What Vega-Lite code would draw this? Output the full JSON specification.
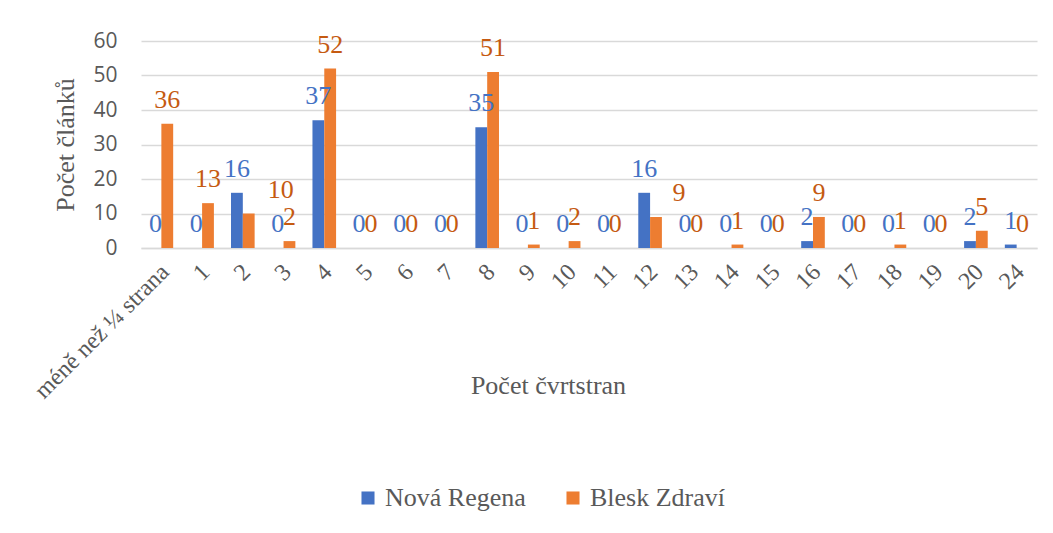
{
  "$schema": "https://vega.github.io/schema/vega-lite/v6.json",
  "width": 896,
  "height": 207,
  "padding": {"left": 30, "top": 30, "right": 10, "bottom": 5},
  "background": "white",
  "data": {
    "values": [
      {"cat": "méně než ¼ strana", "series": "Nová Regena", "value": 0},
      {"cat": "méně než ¼ strana", "series": "Blesk Zdraví", "value": 36},
      {"cat": "1", "series": "Nová Regena", "value": 0},
      {"cat": "1", "series": "Blesk Zdraví", "value": 13},
      {"cat": "2", "series": "Nová Regena", "value": 16},
      {"cat": "2", "series": "Blesk Zdraví", "value": 10},
      {"cat": "3", "series": "Nová Regena", "value": 0},
      {"cat": "3", "series": "Blesk Zdraví", "value": 2},
      {"cat": "4", "series": "Nová Regena", "value": 37},
      {"cat": "4", "series": "Blesk Zdraví", "value": 52},
      {"cat": "5", "series": "Nová Regena", "value": 0},
      {"cat": "5", "series": "Blesk Zdraví", "value": 0},
      {"cat": "6", "series": "Nová Regena", "value": 0},
      {"cat": "6", "series": "Blesk Zdraví", "value": 0},
      {"cat": "7", "series": "Nová Regena", "value": 0},
      {"cat": "7", "series": "Blesk Zdraví", "value": 0},
      {"cat": "8", "series": "Nová Regena", "value": 35},
      {"cat": "8", "series": "Blesk Zdraví", "value": 51},
      {"cat": "9", "series": "Nová Regena", "value": 0},
      {"cat": "9", "series": "Blesk Zdraví", "value": 1},
      {"cat": "10", "series": "Nová Regena", "value": 0},
      {"cat": "10", "series": "Blesk Zdraví", "value": 2},
      {"cat": "11", "series": "Nová Regena", "value": 0},
      {"cat": "11", "series": "Blesk Zdraví", "value": 0},
      {"cat": "12", "series": "Nová Regena", "value": 16},
      {"cat": "12", "series": "Blesk Zdraví", "value": 9},
      {"cat": "13", "series": "Nová Regena", "value": 0},
      {"cat": "13", "series": "Blesk Zdraví", "value": 0},
      {"cat": "14", "series": "Nová Regena", "value": 0},
      {"cat": "14", "series": "Blesk Zdraví", "value": 1},
      {"cat": "15", "series": "Nová Regena", "value": 0},
      {"cat": "15", "series": "Blesk Zdraví", "value": 0},
      {"cat": "16", "series": "Nová Regena", "value": 2},
      {"cat": "16", "series": "Blesk Zdraví", "value": 9},
      {"cat": "17", "series": "Nová Regena", "value": 0},
      {"cat": "17", "series": "Blesk Zdraví", "value": 0},
      {"cat": "18", "series": "Nová Regena", "value": 0},
      {"cat": "18", "series": "Blesk Zdraví", "value": 1},
      {"cat": "19", "series": "Nová Regena", "value": 0},
      {"cat": "19", "series": "Blesk Zdraví", "value": 0},
      {"cat": "20", "series": "Nová Regena", "value": 2},
      {"cat": "20", "series": "Blesk Zdraví", "value": 5},
      {"cat": "24", "series": "Nová Regena", "value": 1},
      {"cat": "24", "series": "Blesk Zdraví", "value": 0}
    ]
  },
  "encoding": {
    "x": {
      "field": "cat",
      "type": "nominal",
      "sort": ["méně než ¼ strana", "1", "2", "3", "4", "5", "6", "7", "8", "9", "10", "11", "12", "13", "14", "15", "16", "17", "18", "19", "20", "24"],
      "scale": {"paddingInner": 0.42, "paddingOuter": 0.21},
      "title": "Počet čvrtstran",
      "axis": {
        "labelAngle": -45,
        "labelAlign": "right",
        "labelBaseline": "middle",
        "labelFont": "Times New Roman, Liberation Serif, serif",
        "labelFontSize": 24,
        "labelColor": "#595959",
        "labelPadding": 20,
        "labelOffset": 4,
        "ticks": false,
        "domainColor": "#d9d9d9",
        "domainWidth": 1.5,
        "titleFont": "Times New Roman, Liberation Serif, serif",
        "titleFontSize": 26,
        "titleFontWeight": "normal",
        "titleColor": "#595959",
        "titleBaseline": "alphabetic",
        "titleAlign": "center",
        "titleAnchor": "start",
        "titleX": 407,
        "titleY": 145
      }
    },
    "xOffset": {
      "field": "series",
      "type": "nominal",
      "sort": ["Nová Regena", "Blesk Zdraví"],
      "scale": {"paddingInner": 0, "paddingOuter": 0}
    },
    "y": {
      "field": "value",
      "type": "quantitative",
      "scale": {"domain": [0, 60]},
      "title": "Počet článků",
      "axis": {
        "values": [0, 10, 20, 30, 40, 50, 60],
        "grid": true,
        "gridColor": "#d9d9d9",
        "gridWidth": 1.5,
        "domain": false,
        "ticks": false,
        "labelFont": "Open Sans",
        "labelFontSize": 21,
        "labelColor": "#595959",
        "labelPadding": 24,
        "titleFont": "Times New Roman, Liberation Serif, serif",
        "titleFontSize": 26,
        "titleFontWeight": "normal",
        "titleColor": "#595959",
        "titlePadding": 14
      }
    }
  },
  "layer": [
    {
      "mark": {"type": "bar"},
      "encoding": {
        "color": {
          "field": "series",
          "type": "nominal",
          "sort": ["Nová Regena", "Blesk Zdraví"],
          "scale": {"domain": ["Nová Regena", "Blesk Zdraví"], "range": ["#4472C4", "#ED7D31"]},
          "legend": {
            "orient": "none",
            "legendX": 214,
            "legendY": 444,
            "direction": "horizontal",
            "title": null,
            "symbolType": "square",
            "symbolSize": 170,
            "symbolStrokeWidth": 0,
            "labelFont": "Times New Roman, Liberation Serif, serif",
            "labelFontSize": 26,
            "labelColor": "#595959",
            "columnPadding": 34
          }
        }
      }
    },
    {
      "transform": [{"filter": "!((datum.cat === '2' || datum.cat === '12') && datum.series === 'Blesk Zdraví')"}],
      "mark": {"type": "text", "dy": -16, "baseline": "alphabetic", "font": "Times New Roman, Liberation Serif, serif", "fontSize": 26},
      "encoding": {
        "text": {"field": "value", "type": "quantitative"},
        "color": {
          "field": "series",
          "type": "nominal",
          "scale": {"domain": ["Nová Regena", "Blesk Zdraví"], "range": ["#4472C4", "#C55A11"]},
          "legend": null
        }
      }
    },
    {
      "transform": [{"filter": "datum.cat === '2' && datum.series === 'Blesk Zdraví'"}],
      "mark": {"type": "text", "dy": -16, "dx": 32, "baseline": "alphabetic", "font": "Times New Roman, Liberation Serif, serif", "fontSize": 26, "color": "#C55A11"},
      "encoding": {
        "text": {"field": "value", "type": "quantitative"}
      }
    },
    {
      "transform": [{"filter": "datum.cat === '12' && datum.series === 'Blesk Zdraví'"}],
      "mark": {"type": "text", "dy": -16, "dx": 23, "baseline": "alphabetic", "font": "Times New Roman, Liberation Serif, serif", "fontSize": 26, "color": "#C55A11"},
      "encoding": {
        "text": {"field": "value", "type": "quantitative"}
      }
    }
  ],
  "resolve": {"scale": {"color": "independent"}},
  "config": {"view": {"stroke": null}}
}
